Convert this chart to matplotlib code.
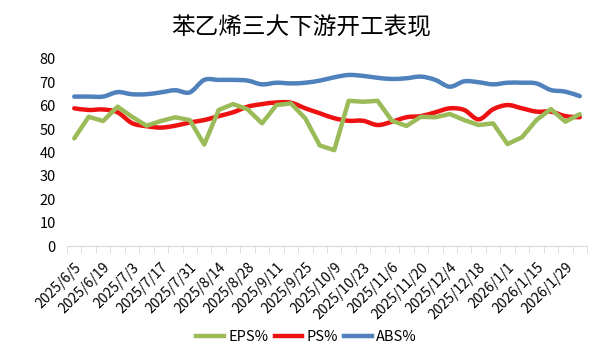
import matplotlib.pyplot as plt
import numpy as np
import pandas as pd
from matplotlib.path import Path
from matplotlib.patches import PathPatch
from matplotlib.lines import Line2D

plt.rcParams['font.family'] = ['Noto Sans CJK SC', 'DejaVu Sans']

dates = pd.date_range('2025-06-05', periods=36, freq='7D')
labels = [f'{d.year}/{d.month}/{d.day}' for d in dates]

eps = [46.0, 55.2, 53.4, 59.5, 55.2, 51.4, 53.4, 55.0, 53.8, 43.4,
       58.1, 60.6, 58.4, 52.4, 60.2, 60.9, 54.5, 43.0, 41.0, 62.0,
       61.6, 62.0, 53.5, 51.3, 55.2, 55.0, 56.4, 53.8, 51.7, 52.4,
       43.6, 46.5, 53.8, 58.5, 53.1, 56.3]
ps = [58.8, 58.1, 58.3, 57.1, 52.5, 51.2, 50.6, 51.4, 52.8, 53.8,
      55.5, 57.1, 59.5, 60.6, 61.3, 61.2, 58.8, 56.7, 54.6, 53.5,
      53.5, 51.7, 53.1, 55.0, 55.5, 57.1, 58.8, 58.1, 54.1, 58.4,
      60.2, 58.8, 57.4, 57.4, 55.5, 55.0]
abs_ = [63.8, 63.8, 63.8, 65.7, 64.8, 64.8, 65.6, 66.5, 65.6, 70.9,
        70.9, 70.9, 70.6, 69.0, 69.7, 69.4, 69.7, 70.6, 72.0, 73.0,
        72.6, 71.8, 71.3, 71.6, 72.3, 70.9, 68.0, 70.3, 69.9, 69.0,
        69.7, 69.7, 69.4, 66.6, 65.9, 64.0]


def smooth_line(ax, xs, ys, color, lw):
    # excel style smoothed line: bezier through the points
    xs = np.asarray(xs, float)
    ys = np.asarray(ys, float)
    n = len(xs)
    verts = [(xs[0], ys[0])]
    codes = [Path.MOVETO]
    for i in range(n - 1):
        p0 = i - 1 if i > 0 else i
        p3 = i + 2 if i + 2 < n else i + 1
        c1 = (xs[i] + (xs[i + 1] - xs[p0]) / 6, ys[i] + (ys[i + 1] - ys[p0]) / 6)
        c2 = (xs[i + 1] - (xs[p3] - xs[i]) / 6, ys[i + 1] - (ys[p3] - ys[i]) / 6)
        verts += [c1, c2, (xs[i + 1], ys[i + 1])]
        codes += [Path.CURVE4] * 3
    ax.add_patch(PathPatch(Path(verts, codes), fill=False, edgecolor=color,
                           lw=lw, capstyle='round', joinstyle='round'))


fig = plt.figure(figsize=(6.06, 3.59), dpi=100)
ax = fig.add_axes([0.1106, 0.3134, 0.858, 0.5236])

x = np.arange(len(labels))
ax.plot(x, eps, color='#9BBB59', lw=3.2, solid_capstyle='round')
smooth_line(ax, x, ps, '#EE1111', 3.2)
smooth_line(ax, x, abs_, '#4F81BD', 3.2)

ax.set_xlim(-0.5, len(labels) - 0.5)
ax.set_ylim(0, 80)
ax.set_yticks(range(0, 81, 10))
ax.tick_params(axis='y', length=0, labelsize=10.5, pad=8)

ax.set_xticks(x[::2])
ax.set_xticklabels(labels[::2], rotation=45, ha='right', rotation_mode='anchor', fontsize=10)
ax.set_xticks(np.arange(-0.5, len(labels), 1), minor=True)
ax.tick_params(axis='x', which='major', length=0, pad=10)
ax.tick_params(axis='x', which='minor', length=5, color='#D9D9D9', direction='out')

for s in ['top', 'right', 'left']:
    ax.spines[s].set_visible(False)
ax.spines['bottom'].set_color('#D9D9D9')

fig.suptitle('苯乙烯三大下游开工表现', x=0.497, y=0.955, fontsize=17)

handles = [Line2D([], [], color='#9BBB59', lw=3.2),
           Line2D([], [], color='#EE1111', lw=3.2),
           Line2D([], [], color='#4F81BD', lw=3.2)]
fig.legend(handles, ['EPS%', 'PS%', 'ABS%'], loc='center', bbox_to_anchor=(0.506, 0.062),
           ncol=3, frameon=False, fontsize=10.5, handlelength=1.9,
           columnspacing=0.4, handletextpad=0.3)

fig.savefig('out.png', dpi=100)
